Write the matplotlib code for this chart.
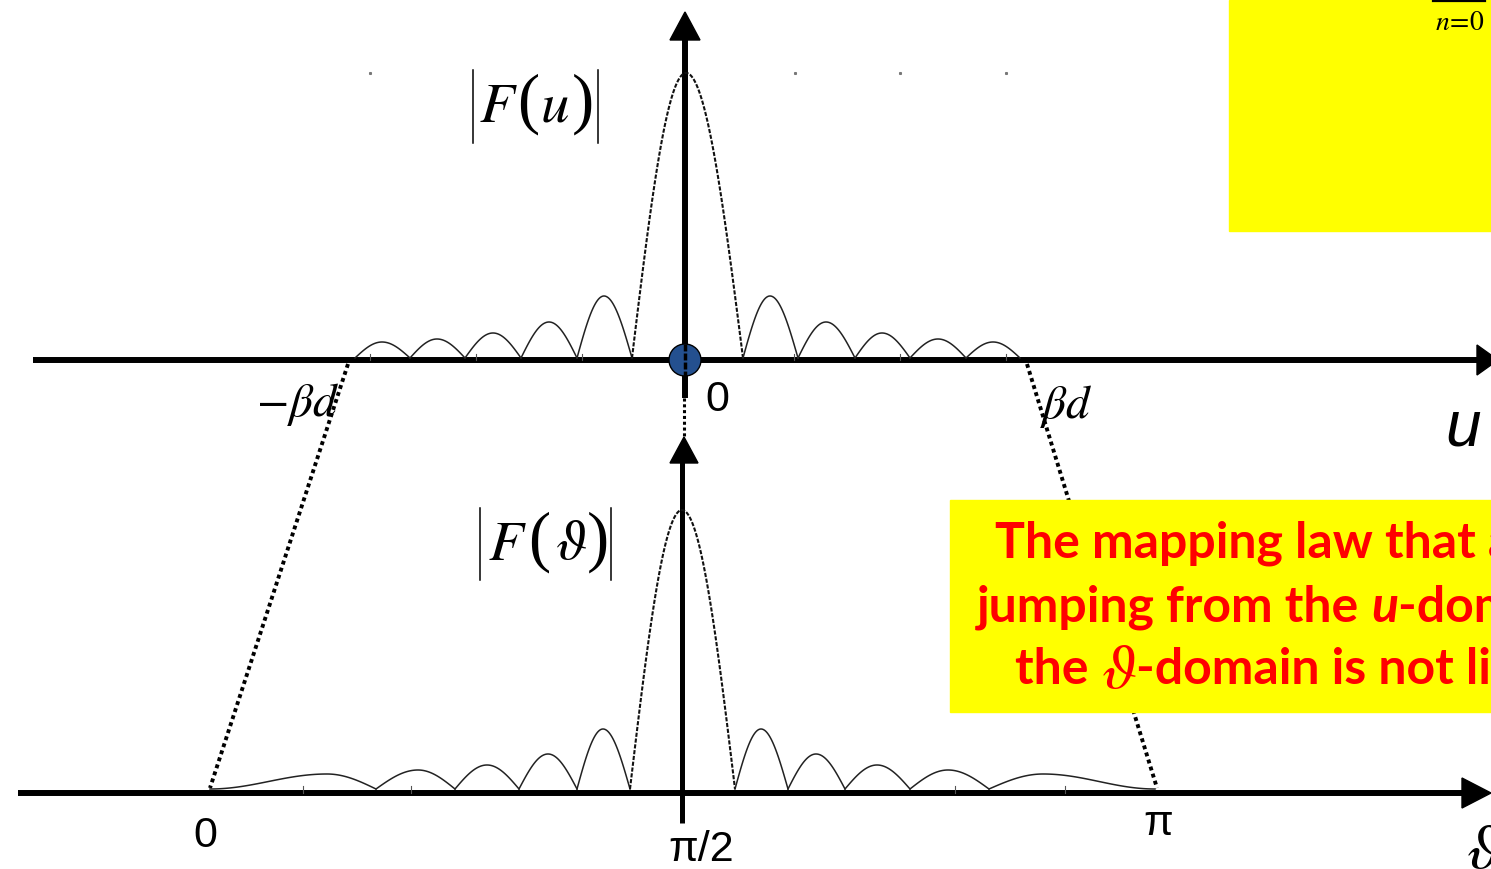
import numpy as np
import matplotlib
matplotlib.use("Agg")
import matplotlib.pyplot as plt
from matplotlib.patches import Polygon, Circle, Rectangle

plt.rcParams['mathtext.fontset'] = 'stix'

# |F(u)| lobes: null positions, peak positions and peak heights (pixels)
u_nulls = [355, 410, 465, 521, 577, 632, 743, 798, 855, 910, 966, 1020]
u_peak_x = [382, 437, 493, 549, 604, 686, 770, 826, 882, 938, 993]
u_peak_h = [16, 19, 25, 36, 62, 285, 62, 36, 25, 19, 16]

# |F(theta)| lobes
t_nulls = [210, 376, 455, 519, 577, 630, 735, 788, 845, 910, 989, 1155]
t_peak_x = [327, 418, 487, 548, 603, 682, 761, 816, 877, 948, 1043]
t_peak_h = [15, 19, 24, 35, 60, 279, 60, 35, 24, 19, 15]

u_ticks = [370, 476, 582, 794, 900, 1006]
t_ticks = [303, 411, 955, 1065]

W, H = 1491, 869
U_AXIS, T_AXIS = 360, 793


def lobe_xy(x0, xp, x1, h, smooth_left=False, smooth_right=False):
    t = np.linspace(0, 1, 60)
    if smooth_left:
        yl = h * (1 - np.cos(np.pi * t)) / 2
    else:
        yl = h * np.sin(np.pi / 2 * t)
    if smooth_right:
        yr = h * (1 + np.cos(np.pi * t)) / 2
    else:
        yr = h * np.cos(np.pi / 2 * t)
    x = np.concatenate([x0 + t * (xp - x0), xp + t * (x1 - xp)])
    y = np.concatenate([yl, yr])
    return x, y


def draw_pattern(ax, nulls, peak_x, peak_h, base, smooth_ends=False):
    n = len(peak_h)
    main = int(np.argmax(peak_h))
    for i in range(n):
        x, y = lobe_xy(nulls[i], peak_x[i], nulls[i + 1], peak_h[i],
                       smooth_left=smooth_ends and i == 0,
                       smooth_right=smooth_ends and i == n - 1)
        if i == main:
            ax.plot(x, base - y, color='#111111', lw=1.5, ls=(0, (2.0, 0.8)))
        else:
            ax.plot(x, base - y, color='#222222', lw=1.1)


def arrow_head(ax, tip, base_c, half, vertical=True):
    tx, ty = tip
    if vertical:
        pts = [(tx, ty), (tx - half, base_c), (tx + half, base_c)]
    else:
        pts = [(tx, ty), (base_c, ty - half), (base_c, ty + half)]
    ax.add_patch(Polygon(pts, closed=True, color='black', zorder=5))


def abs_label(ax, x_bars, y_span, pieces):
    # |F(.)| drawn as separate glyphs so the brackets can be tall
    for xb in x_bars:
        ax.plot([xb, xb], y_span, color='black', lw=1.1)
    yc = sum(y_span) / 2
    for x, s, size in pieces:
        if s in '()':
            ax.text(x, yc - 2, s, fontsize=size, family='Liberation Serif',
                    ha='center', va='center')
        else:
            ax.text(x, yc, s, fontsize=size, ha='center', va='center')


fig = plt.figure(figsize=(W / 100, H / 100), dpi=100)
ax = fig.add_axes([0, 0, 1, 1])
ax.set_xlim(0, W)
ax.set_ylim(H, 0)
ax.axis('off')

# yellow boxes
ax.add_patch(Rectangle((1229, 0), 262, 231, color='#FFFF00', zorder=3))
ax.add_patch(Rectangle((950, 500), 541, 212, color='#FFFF00', zorder=3))
ax.plot([1433, 1485], [0.8, 0.8], color='black', lw=1.6, zorder=4)
ax.text(1460, 22, r'$n\!=\!0$', fontsize=20, ha='center', va='center', zorder=4)

# mapping lines between the two domains
ax.plot([348, 210], [U_AXIS + 4, T_AXIS - 5], color='black', lw=2.8,
        ls=(0, (1, 0.9)), dash_capstyle='butt', zorder=2)
ax.plot([1027, 1157], [U_AXIS + 4, T_AXIS - 5], color='black', lw=2.8,
        ls=(0, (1, 0.9)), dash_capstyle='butt', zorder=2)
ax.plot([684, 684], [398, 437], color='black', lw=2.2,
        ls=(0, (1, 0.9)), dash_capstyle='butt')

# u-domain axes
ax.plot([33, 1480], [U_AXIS, U_AXIS], color='black', lw=4.3, solid_capstyle='butt')
arrow_head(ax, (1498, U_AXIS), 1477, 15, vertical=False)
ax.plot([685, 685], [38, 398], color='black', lw=4.3, solid_capstyle='butt')
arrow_head(ax, (685, 12), 40, 15)
for x in u_ticks:
    ax.plot([x, x], [U_AXIS - 6, U_AXIS], color='#555555', lw=0.8)
ax.plot([370, 795, 900, 1006], [73] * 4, ls='none', marker='s', ms=1.2,
        color='#777777')
draw_pattern(ax, u_nulls, u_peak_x, u_peak_h, 358)
ax.add_patch(Circle((685, U_AXIS), 16, facecolor='#24508f', edgecolor='black',
                    lw=1.0, zorder=6))
ax.plot([685, 685], [U_AXIS - 16, U_AXIS + 16], color='black', lw=2.5, zorder=7,
        ls=(0, (2, 0.6)))

# theta-domain axes
ax.plot([18, 1465], [T_AXIS, T_AXIS], color='black', lw=4.3, solid_capstyle='butt')
arrow_head(ax, (1491, T_AXIS), 1462, 15, vertical=False)
ax.plot([682, 682], [460, 823], color='black', lw=3.6, solid_capstyle='butt')
arrow_head(ax, (684, 437), 463, 14)
for x in t_ticks:
    ax.plot([x, x], [T_AXIS - 7, T_AXIS], color='#555555', lw=0.8)
draw_pattern(ax, t_nulls, t_peak_x, t_peak_h, 789, smooth_ends=True)

# labels
abs_label(ax, [473, 598], [70, 143],
          [(498, r'$F$', 41), (528, '(', 48), (555, r'$u$', 41), (583, ')', 48)])
abs_label(ax, [480, 611], [508, 580],
          [(507, r'$F$', 41), (539, '(', 48), (571, r'$\vartheta$', 41), (598, ')', 48)])
ax.text(298, 404, r'$-\beta d$', fontsize=34, ha='center', va='center')
ax.text(1066, 406, r'$\beta d$', fontsize=34, ha='center', va='center')
ax.text(717, 400, '0', fontsize=31, family='Liberation Sans', ha='center', va='center')
ax.text(1463, 428, 'u', fontsize=46, family='Liberation Sans', style='italic',
        ha='center', va='center')
ax.text(205, 836, '0', fontsize=31, family='Liberation Sans', ha='center', va='center')
ax.text(1158, 824, 'π', fontsize=31, family='Liberation Sans', ha='center', va='center')
ax.text(701, 850, 'π/2', fontsize=31, family='Liberation Sans', ha='center', va='center')
ax.text(1466, 850, r'$\vartheta$', fontsize=46, ha='left', va='center')

# red note, built piece by piece so the symbols keep their own fonts
renderer = fig.canvas.get_renderer()
note_font = dict(family='Lato', weight='bold', fontsize=36, color='#FF0000')
note_lines = [
    (995, 543, [('The mapping law that allows', {})]),
    (977, 607, [('jumping from the ', {}), ('u', {'style': 'italic'}),
                ('-domain to', {})]),
    (1015, 670, [('the ', {}), (r'$\vartheta$', {'family': None, 'fontsize': 46}),
                 ('-domain is not linear', {})]),
]
for x0, y0, pieces in note_lines:
    x = x0
    for s, extra in pieces:
        kw = dict(note_font)
        kw.update(extra)
        if kw.get('family') is None:
            kw.pop('family')
        t = ax.text(x, y0, s, ha='left', va='center', zorder=4, **kw)
        x += t.get_window_extent(renderer).width

fig.savefig('out.png', dpi=100)
